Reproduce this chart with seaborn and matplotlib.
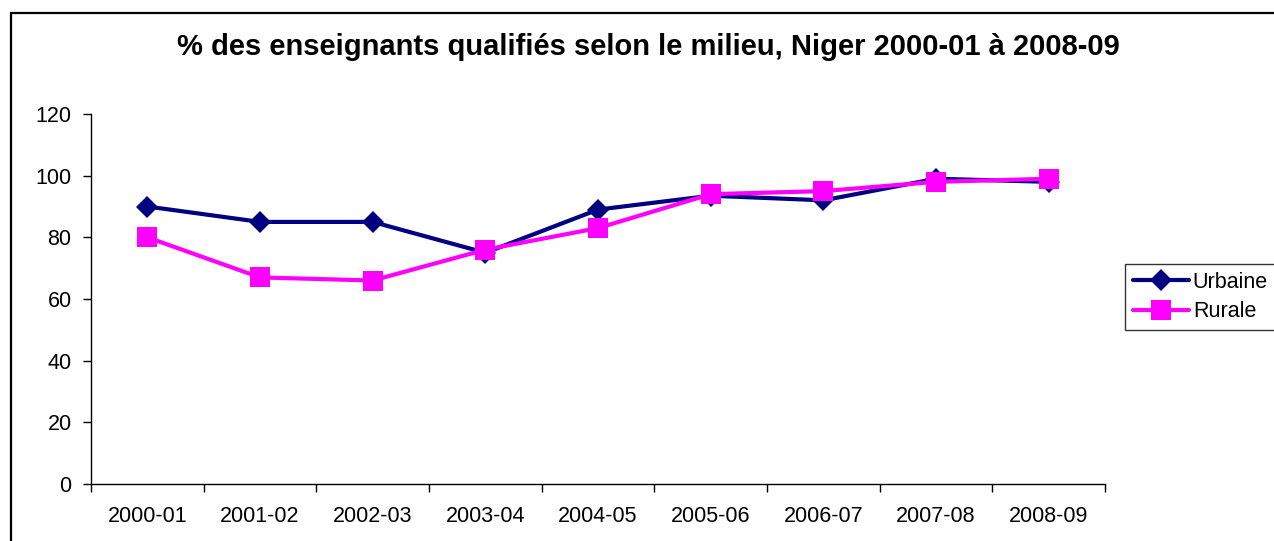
import numpy as np
import pandas as pd
import matplotlib
matplotlib.use("Agg")
import matplotlib.pyplot as plt
import matplotlib.patches as patches
import seaborn as sns

# données
periodes = ["2000-01", "2001-02", "2002-03", "2003-04", "2004-05",
            "2005-06", "2006-07", "2007-08", "2008-09"]
urbaine = [90, 85, 85, 75, 89, 93.5, 92, 99, 98]
rurale = [80, 67, 66, 76, 83, 94, 95, 98, 99]
y_ticks = [0, 20, 40, 60, 80, 100, 120]

sns.set_style("white")
plt.rcParams['font.family'] = ['Liberation Sans', 'DejaVu Sans']
plt.rcParams['text.color'] = 'black'
plt.rcParams['xtick.color'] = 'black'
plt.rcParams['ytick.color'] = 'black'

fig = plt.figure(figsize=(12.74, 5.41), dpi=100)
ax = fig.add_axes([91/1274, 1 - 484/541, (1105 - 91)/1274, (484 - 114)/541])

df = pd.DataFrame({'periode': periodes, 'Urbaine': urbaine, 'Rurale': rurale})

sns.lineplot(data=df, x='periode', y='Urbaine', ax=ax, color='#000080',
             linewidth=3, marker='D', markersize=11, markeredgewidth=0,
             label='Urbaine')
sns.lineplot(data=df, x='periode', y='Rurale', ax=ax, color='#FF00FF',
             linewidth=3, marker='s', markersize=14, markeredgewidth=0,
             label='Rurale')

ax.set_xlim(-0.5, len(periodes) - 0.5)
ax.set_ylim(0, 120)
ax.set_yticks(y_ticks)
ax.set_xticks(range(len(periodes)))
ax.set_xticklabels(periodes)
ax.set_xticks(np.arange(-0.5, len(periodes)), minor=True)
ax.set_xlabel('')
ax.set_ylabel('')

for s in ['top', 'right']:
    ax.spines[s].set_visible(False)
for s in ['left', 'bottom']:
    ax.spines[s].set_color('black')
    ax.spines[s].set_linewidth(1)

ax.tick_params(axis='x', which='major', length=0, pad=16, labelsize=15.5,
               labelcolor='black')
ax.tick_params(axis='x', which='minor', length=6, width=1, color='black',
               direction='out', bottom=True)
ax.tick_params(axis='y', length=6, width=1, color='black', direction='out',
               left=True, pad=8, labelsize=15.5, labelcolor='black')

fig.text(0.509, 1 - 47/541, "% des enseignants qualifiés selon le milieu, Niger 2000-01 à 2008-09",
         ha='center', va='center', fontsize=21, fontweight='bold', color='black')

leg = ax.legend(loc='upper left', bbox_to_anchor=(1125/1274, 1 - 264/541),
                bbox_transform=fig.transFigure, frameon=True, fancybox=False,
                fontsize=15.5, handlelength=2.6, handletextpad=0.2,
                borderpad=0.35, labelspacing=0.4, borderaxespad=0)
leg.get_frame().set_edgecolor('black')
leg.get_frame().set_linewidth(1)
for t in leg.get_texts():
    t.set_color('black')

# cadre du graphique
cadre = patches.Rectangle((11/1274, -0.2), 1.2, 1.2 - 13/541, transform=fig.transFigure,
                          fill=False, edgecolor='black', linewidth=1.6, clip_on=False)
fig.patches.append(cadre)

fig.savefig('out.png', dpi=100, facecolor='white')
